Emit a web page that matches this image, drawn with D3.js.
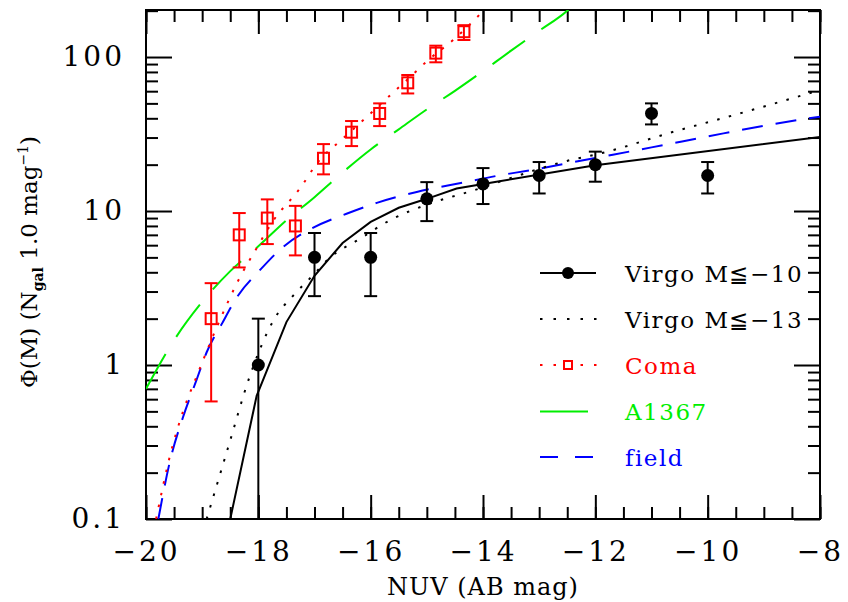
<!DOCTYPE html>
<html>
<head>
<meta charset="utf-8">
<script src="https://cdn.jsdelivr.net/npm/d3@7"></script>
<style>
  html, body { margin: 0; padding: 0; background: #fff; }
  svg { display: block; }
  text { font-family: "DejaVu Serif", "Liberation Serif", serif; }
</style>
</head>
<body>
<svg id="chart" width="848" height="602"></svg>
<script>
// ---------------- data ----------------
// Virgo measured LF (filled circles)
const virgoMag = [-18, -17, -16, -15, -14, -13, -12, -11, -10];
const virgoPhi = [1, 5, 5, 12, 15, 17, 20, 43, 17];
const virgoLo  = [0.01, 2.8, 2.8, 8.6, 11.1, 13.0, 15.5, 36.5, 13.0];
const virgoHi  = [2.0, 7.2, 7.2, 15.4, 19.0, 20.8, 24.3, 50, 20.8];

// Coma measured LF (open squares)
const comaMag = [-18.84, -18.34, -17.84, -17.34, -16.84, -16.34, -15.84, -15.34, -14.84, -14.34];
const comaPhi = [2.0, 7.0, 9.0, 8.0, 22, 32.5, 43, 68, 106, 146];
const comaLo  = [0.58, 4.3, 6.1, 5.15, 17.3, 26.4, 35.6, 58, 92.4, 129];
const comaHi  = [3.4, 9.7, 11.9, 10.8, 27.2, 38.4, 50, 76.4, 118.5, 161];

// Fitted curves
const virgo10FitMag = [-18.5, -18.03, -17.5, -17.0, -16.5, -16.0, -15.5, -15.0, -14.47, -13.76, -12.0, -8.0];
const virgo10FitPhi = [0.1, 0.63, 1.9, 3.8, 6.2, 8.5, 10.5, 12.0, 14.0, 15.5, 19.8, 30.3];

const virgo13FitMag = [-18.92, -18.54, -18.15, -17.73, -17.35, -17.05, -16.72, -16.19, -15.66, -14.94, -14.17, -13.46, -12.45, -11.92, -10.61, -9.43, -8.0];
const virgo13FitPhi = [0.1, 0.29, 0.85, 1.95, 2.9, 3.75, 5.0, 6.6, 8.7, 11.2, 13.6, 16.6, 21.4, 23.6, 32.7, 43, 61];

const comaFitMag = [-19.82, -19.57, -19.34, -19.10, -18.74, -18.33, -18.06, -17.73, -17.26, -16.93, -16.52, -16.13, -15.71, -15.30, -14.97, -14.53, -13.98];
const comaFitPhi = [0.1, 0.26, 0.50, 0.84, 1.76, 3.7, 5.5, 8.7, 14, 21, 29, 39, 54, 74, 96, 129, 202];

const a1367FitMag = [-20, -19.5, -19, -18.5, -18, -17.5, -17, -16.5, -16, -15.5, -15, -14.5, -14, -13.5, -13, -12.5, -12.3];
const a1367FitPhi = [0.70, 1.45, 2.57, 4.07, 5.9, 8.7, 12.3, 17.8, 25.1, 33.9, 45.7, 60.3, 81, 110, 148, 200, 235];

const fieldFitMag = [-19.78, -19.57, -19.34, -19.10, -18.92, -18.65, -18.36, -17.98, -17.57, -17.05, -16.43, -15.89, -15.18, -14.35, -13.76, -13.16, -12.0, -11.0, -10.0, -9.0, -8.0];
const fieldFitPhi = [0.1, 0.24, 0.46, 0.80, 1.21, 1.85, 2.83, 4.1, 5.8, 7.7, 9.6, 11.3, 13.3, 15.3, 16.9, 18.4, 22.1, 25.9, 30.5, 35.8, 41];

// axis ticks
const xMajorTicks = [-20, -18, -16, -14, -12, -10, -8];
const xMinorTicks = d3.range(-20, -7.99, 0.5);
const yMajorTicks = [0.1, 1, 10, 100];
const yMinorTicks = [0.2,0.3,0.4,0.5,0.6,0.7,0.8,0.9,2,3,4,5,6,7,8,9,20,30,40,50,60,70,80,90,200];

const legendLabels = ["Virgo M≦−10", "Virgo M≦−13", "Coma", "A1367", "field"];
const xTitle = "NUV (AB mag)";

// ---------------- drawing ----------------
const RED = "#ff0000", GREEN = "#00ee00", BLUE = "#0000ff", BLACK = "#000000";
const L = 146, R = 820, T = 10, B = 519;
const svg = d3.select("#chart");
const x = d3.scaleLinear().domain([-20, -8]).range([L, R]);
const y = d3.scaleLog().domain([0.1, 202]).range([B, T]);

svg.append("defs").append("clipPath").attr("id", "plotclip")
  .append("rect").attr("x", L).attr("y", T).attr("width", R - L).attr("height", B - T);

const fmtX = d => (d < 0 ? "−" : "") + Math.abs(d);
const fmtY = d => d === 0.1 ? "0.1" : String(d);

function styleAxis(g) {
  g.select(".domain").remove();
  g.selectAll(".tick line").attr("stroke", "#000").attr("stroke-width", 2);
}

// bottom axis
svg.append("g").attr("transform", `translate(0,${B})`)
  .call(d3.axisBottom(x).tickValues(xMinorTicks).tickSize(-12).tickFormat(""))
  .call(styleAxis);
svg.append("g").attr("transform", `translate(0,${B})`)
  .call(d3.axisBottom(x).tickValues(xMajorTicks).tickSize(-24).tickPadding(22).tickFormat(fmtX))
  .call(styleAxis)
  .call(g => g.selectAll(".tick text").attr("font-size", 28).attr("fill", "#000")
      .attr("font-family", "DejaVu Serif").style("letter-spacing", "3px"));
// top axis
svg.append("g").attr("transform", `translate(0,${T})`)
  .call(d3.axisTop(x).tickValues(xMinorTicks).tickSize(-12).tickFormat(""))
  .call(styleAxis);
svg.append("g").attr("transform", `translate(0,${T})`)
  .call(d3.axisTop(x).tickValues(xMajorTicks).tickSize(-24).tickFormat(""))
  .call(styleAxis);
// left axis
svg.append("g").attr("transform", `translate(${L},0)`)
  .call(d3.axisLeft(y).tickValues(yMinorTicks).tickSize(-12).tickFormat(""))
  .call(styleAxis);
svg.append("g").attr("transform", `translate(${L},0)`)
  .call(d3.axisLeft(y).tickValues(yMajorTicks).tickSize(-26).tickPadding(21).tickFormat(fmtY))
  .call(styleAxis)
  .call(g => g.selectAll(".tick text").attr("font-size", 28).attr("fill", "#000")
      .attr("font-family", "DejaVu Serif").style("letter-spacing", "3px"));
// right axis
svg.append("g").attr("transform", `translate(${R},0)`)
  .call(d3.axisRight(y).tickValues(yMinorTicks).tickSize(-12).tickFormat(""))
  .call(styleAxis);
svg.append("g").attr("transform", `translate(${R},0)`)
  .call(d3.axisRight(y).tickValues(yMajorTicks).tickSize(-26).tickFormat(""))
  .call(styleAxis);

// frame
svg.append("rect").attr("x", L).attr("y", T).attr("width", R - L).attr("height", B - T)
  .attr("fill", "none").attr("stroke", "#000").attr("stroke-width", 2);

// curves
const plot = svg.append("g").attr("clip-path", "url(#plotclip)");
function curve(mags, phis, color, dash, interp) {
  const line = d3.line().x(d => x(d[0])).y(d => y(d[1])).curve(interp || d3.curveMonotoneX);
  plot.append("path").datum(d3.zip(mags, phis)).attr("d", line)
    .attr("fill", "none").attr("stroke", color).attr("stroke-width", 2)
    .attr("stroke-dasharray", dash || null);
}
curve(a1367FitMag, a1367FitPhi, GREEN, "40,20");
curve(fieldFitMag, fieldFitPhi, BLUE, "21,13");
curve(comaFitMag, comaFitPhi, RED, "2.5,9.5");
curve(virgo13FitMag, virgo13FitPhi, BLACK, "2.5,9.5");
curve(virgo10FitMag, virgo10FitPhi, BLACK, null, d3.curveLinear);

// error bars
function errorBars(mags, lo, hi, color, cap) {
  const g = plot.append("g").attr("stroke", color).attr("stroke-width", 2);
  mags.forEach((m, i) => {
    g.append("line").attr("x1", x(m)).attr("x2", x(m)).attr("y1", y(lo[i])).attr("y2", y(hi[i]));
    g.append("line").attr("x1", x(m) - cap).attr("x2", x(m) + cap).attr("y1", y(hi[i])).attr("y2", y(hi[i]));
    g.append("line").attr("x1", x(m) - cap).attr("x2", x(m) + cap).attr("y1", y(lo[i])).attr("y2", y(lo[i]));
  });
}
errorBars(virgoMag, virgoLo, virgoHi, BLACK, 6.5);
errorBars(comaMag, comaLo, comaHi, RED, 6.5);

// markers
plot.append("g").selectAll("circle").data(d3.zip(virgoMag, virgoPhi)).join("circle")
  .attr("cx", d => x(d[0])).attr("cy", d => y(d[1])).attr("r", 6.5).attr("fill", "#000");
plot.append("g").selectAll("rect").data(d3.zip(comaMag, comaPhi)).join("rect")
  .attr("x", d => x(d[0]) - 5.5).attr("y", d => y(d[1]) - 5.5).attr("width", 11).attr("height", 11)
  .attr("fill", "none").attr("stroke", RED).attr("stroke-width", 2);

// legend
const legY = [273, 319, 365, 411.5, 457];
const legColors = [BLACK, BLACK, RED, GREEN, BLUE];
const leg = svg.append("g");
leg.append("line").attr("x1", 540).attr("x2", 596).attr("y1", legY[0]).attr("y2", legY[0]).attr("stroke", BLACK).attr("stroke-width", 2);
leg.append("circle").attr("cx", 568).attr("cy", legY[0]).attr("r", 6).attr("fill", BLACK);
leg.append("line").attr("x1", 540).attr("x2", 598).attr("y1", legY[1]).attr("y2", legY[1]).attr("stroke", BLACK).attr("stroke-width", 2).attr("stroke-dasharray", "2.5,11");
leg.append("line").attr("x1", 540).attr("x2", 598).attr("y1", legY[2]).attr("y2", legY[2]).attr("stroke", RED).attr("stroke-width", 2).attr("stroke-dasharray", "2.5,11");
leg.append("rect").attr("x", 564).attr("y", legY[2] - 4).attr("width", 8).attr("height", 8).attr("fill", "#fff").attr("stroke", RED).attr("stroke-width", 2);
leg.append("line").attr("x1", 540).attr("x2", 588).attr("y1", legY[3]).attr("y2", legY[3]).attr("stroke", GREEN).attr("stroke-width", 2);
leg.append("line").attr("x1", 540).attr("x2", 594).attr("y1", legY[4]).attr("y2", legY[4]).attr("stroke", BLUE).attr("stroke-width", 2).attr("stroke-dasharray", "18,17");
leg.selectAll("text").data(legendLabels).join("text")
  .attr("x", 625).attr("y", (d, i) => legY[i] + 8.5)
  .attr("font-size", 23).attr("fill", (d, i) => legColors[i])
  .style("letter-spacing", "1.5px").text(d => d);

// axis titles
svg.append("text").attr("x", 483).attr("y", 595).attr("text-anchor", "middle")
  .attr("font-size", 24).style("letter-spacing", "1px").text(xTitle);

const yt = svg.append("text").attr("transform", "translate(37,262) rotate(-90)")
  .attr("text-anchor", "middle").attr("font-size", 23);
yt.append("tspan").text("Φ(M) (N");
yt.append("tspan").attr("dy", 6).attr("font-size", 14).attr("font-weight", "bold").text("gal");
yt.append("tspan").attr("dy", -6).text(" 1.0 mag");
yt.append("tspan").attr("dy", -9).attr("font-size", 14).text("−1");
yt.append("tspan").attr("dy", 9).text(")");
</script>
</body>
</html>
